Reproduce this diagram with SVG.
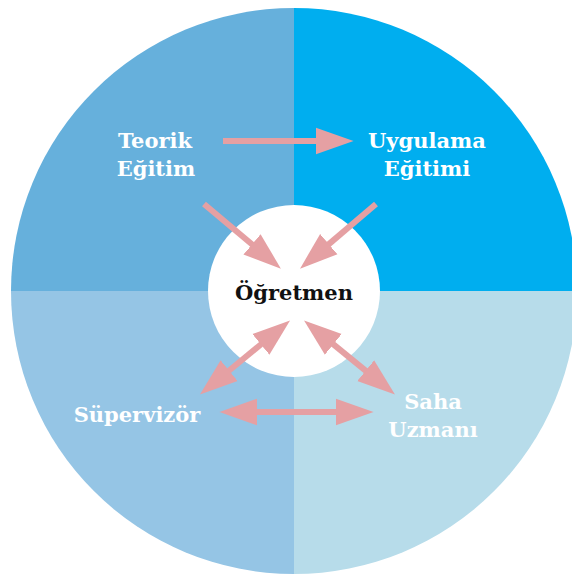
<svg xmlns="http://www.w3.org/2000/svg" width="572" height="574" viewBox="0 0 572 574">
<style>
.lbl{font-family:"DejaVu Serif","Liberation Serif",serif;font-weight:bold;font-size:21px;fill:#ffffff;text-anchor:middle}
.ctr{font-family:"DejaVu Serif","Liberation Serif",serif;font-weight:bold;font-size:21px;fill:#111111;text-anchor:middle}
.arr{stroke:#e5a0a3;stroke-width:6;fill:none}
</style>
<defs>
<marker id="ah" markerUnits="userSpaceOnUse" markerWidth="40" markerHeight="30" viewBox="-1 -13 36 26" refX="1" refY="0" orient="auto-start-reverse">
<path d="M-1,-12 L33,0 L-1,12 z" fill="#e5a0a3"/>
</marker>
</defs>
<rect width="572" height="574" fill="#ffffff"/>
<g id="quadrants">
<path d="M294,291 L294,8 A283,283 0 0 0 11,291 z" fill="#66b0dc"/>
<path d="M294,291 L294,8 A283,283 0 0 1 577,291 z" fill="#00aeef"/>
<path d="M294,291 L11,291 A283,283 0 0 0 294,574 z" fill="#95c5e5"/>
<path d="M294,291 L577,291 A283,283 0 0 1 294,574 z" fill="#b7dcea"/>
</g>
<g id="ogretmen">
<circle cx="294" cy="291" r="86" fill="#ffffff"/>
<text class="ctr" x="294" y="300">Öğretmen</text>
</g>
<g id="teorik">
<text class="lbl" x="155" y="148">Teorik</text>
<text class="lbl" x="156" y="176">Eğitim</text>
</g>
<g id="uygulama">
<text class="lbl" x="427" y="148">Uygulama</text>
<text class="lbl" x="427" y="176">Eğitimi</text>
</g>
<g id="supervizor">
<text class="lbl" x="137" y="422">Süpervizör</text>
</g>
<g id="saha">
<text class="lbl" x="433" y="409">Saha</text>
<text class="lbl" x="433" y="437">Uzmanı</text>
</g>
<g id="connectors">
<line class="arr" x1="223" y1="141" x2="318" y2="141" marker-end="url(#ah)"/>
<line class="arr" x1="204" y1="204" x2="253.7" y2="245.8" marker-end="url(#ah)"/>
<line class="arr" x1="376" y1="204" x2="327.1" y2="245.6" marker-end="url(#ah)"/>
<line class="arr" x1="262.6" y1="343" x2="227.4" y2="372" marker-start="url(#ah)" marker-end="url(#ah)"/>
<line class="arr" x1="331.6" y1="342.9" x2="367.4" y2="372.1" marker-start="url(#ah)" marker-end="url(#ah)"/>
<line class="arr" x1="255" y1="412" x2="338" y2="412" marker-start="url(#ah)" marker-end="url(#ah)"/>
</g>
</svg>
